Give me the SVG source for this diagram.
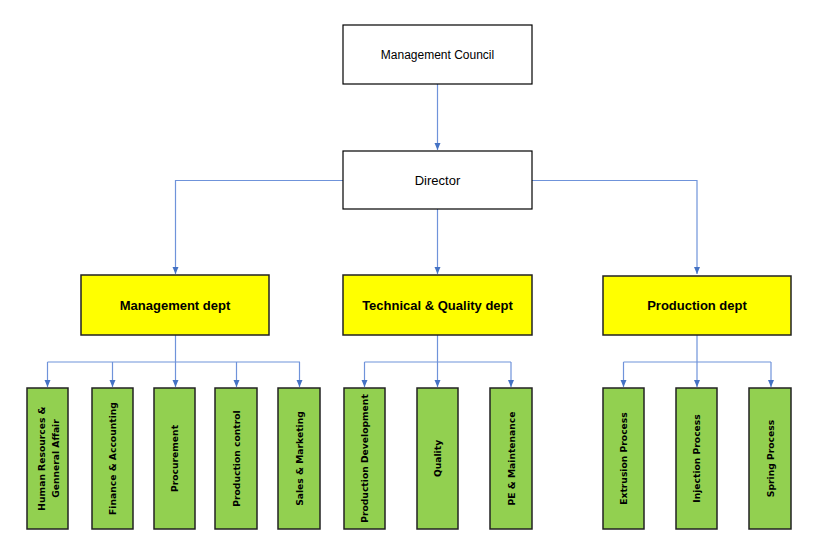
<svg xmlns="http://www.w3.org/2000/svg" width="826" height="557" viewBox="0 0 826 557">
<defs>
<marker id="ah" markerWidth="8" markerHeight="8" refX="7" refY="4" orient="auto" markerUnits="userSpaceOnUse">
<path d="M0,1 L7,4 L0,7 Z" fill="#4472C4"/>
</marker>
<style>
.top{fill:#fff;stroke:#000;stroke-width:1.2}
.dept{fill:#FFFF00;stroke:#222;stroke-width:1.5}
.unit{fill:#92D050;stroke:#222;stroke-width:1.5}
.t1{font-family:"Liberation Sans",Arial,sans-serif;font-size:12px;fill:#000;text-anchor:middle}
.t2{font-family:"Liberation Sans",Arial,sans-serif;font-size:13px;font-weight:bold;fill:#000;text-anchor:middle}
.t3{font-family:"DejaVu Sans",Verdana,sans-serif;font-size:9.2px;font-weight:bold;fill:#000;text-anchor:middle}
.c{fill:none;stroke:#6F93DA;stroke-width:1.2}
</style>
</defs>
<rect width="826" height="557" fill="#fff"/>
<g id="connectors">
<path class="c" d="M437.5,84 V150" marker-end="url(#ah)"/>
<path class="c" d="M343,180.5 H175.5 V274" marker-end="url(#ah)"/>
<path class="c" d="M437.5,209 V274" marker-end="url(#ah)"/>
<path class="c" d="M532,180.5 H697 V274" marker-end="url(#ah)"/>
<path class="c" d="M175.5,335 V362 M47.5,362 H300"/>
<path class="c" d="M47.5,362 V387" marker-end="url(#ah)"/>
<path class="c" d="M112.5,362 V387" marker-end="url(#ah)"/>
<path class="c" d="M175.5,362 V387" marker-end="url(#ah)"/>
<path class="c" d="M236.5,362 V387" marker-end="url(#ah)"/>
<path class="c" d="M299.5,362 V387" marker-end="url(#ah)"/>
<path class="c" d="M437.5,335 V362 M364.5,362 H511"/>
<path class="c" d="M364.5,362 V387" marker-end="url(#ah)"/>
<path class="c" d="M437.5,362 V387" marker-end="url(#ah)"/>
<path class="c" d="M511,362 V387" marker-end="url(#ah)"/>
<path class="c" d="M697,335 V362 M623.5,362 H771"/>
<path class="c" d="M623.5,362 V387" marker-end="url(#ah)"/>
<path class="c" d="M697,362 V387" marker-end="url(#ah)"/>
<path class="c" d="M771,362 V387" marker-end="url(#ah)"/>
</g>
<g id="council"><rect class="top" x="343" y="25" width="189" height="59"/><text class="t1" x="437.5" y="59">Management Council</text></g>
<g id="director"><rect class="top" x="343" y="151" width="189" height="58"/><text class="t1" x="437.5" y="185" style="font-size:13px">Director</text></g>
<g id="mgmt"><rect class="dept" x="81" y="275" width="188" height="60"/><text class="t2" x="175" y="310">Management dept</text></g>
<g id="tech"><rect class="dept" x="343" y="275" width="189" height="60"/><text class="t2" x="437.5" y="310">Technical &amp; Quality dept</text></g>
<g id="prod"><rect class="dept" x="603" y="276" width="188" height="59"/><text class="t2" x="697" y="310">Production dept</text></g>
<g id="hr"><rect class="unit" x="27" y="388" width="41" height="141"/><text class="t3" transform="translate(44.5,458.5) rotate(-90)">Human Resources &amp;</text><text class="t3" transform="translate(58.5,458.5) rotate(-90)">Genneral Affair</text></g>
<g id="fin"><rect class="unit" x="92" y="388" width="41" height="141"/><text class="t3" transform="translate(116,458.5) rotate(-90)">Finance &amp; Accounting</text></g>
<g id="proc"><rect class="unit" x="154" y="388" width="41" height="141"/><text class="t3" transform="translate(178,458.5) rotate(-90)">Procurement</text></g>
<g id="pc"><rect class="unit" x="215" y="388" width="42" height="141"/><text class="t3" transform="translate(239.5,458.5) rotate(-90)">Production control</text></g>
<g id="sales"><rect class="unit" x="278" y="388" width="42" height="141"/><text class="t3" transform="translate(302.5,458.5) rotate(-90)">Sales &amp; Marketing</text></g>
<g id="pd"><rect class="unit" x="344" y="388" width="41" height="141"/><text class="t3" transform="translate(368,458.5) rotate(-90)">Production Development</text></g>
<g id="qual"><rect class="unit" x="417" y="388" width="41" height="141"/><text class="t3" transform="translate(441,458.5) rotate(-90)">Quality</text></g>
<g id="pe"><rect class="unit" x="490" y="388" width="42" height="141"/><text class="t3" transform="translate(514.5,458.5) rotate(-90)">PE &amp; Maintenance</text></g>
<g id="ext"><rect class="unit" x="603" y="388" width="41" height="141"/><text class="t3" transform="translate(627,458.5) rotate(-90)">Extrusion Process</text></g>
<g id="inj"><rect class="unit" x="676" y="388" width="41" height="141"/><text class="t3" transform="translate(700,458.5) rotate(-90)">Injection Process</text></g>
<g id="spr"><rect class="unit" x="749" y="388" width="42" height="141"/><text class="t3" transform="translate(773.5,458.5) rotate(-90)">Spring Process</text></g>
</svg>
